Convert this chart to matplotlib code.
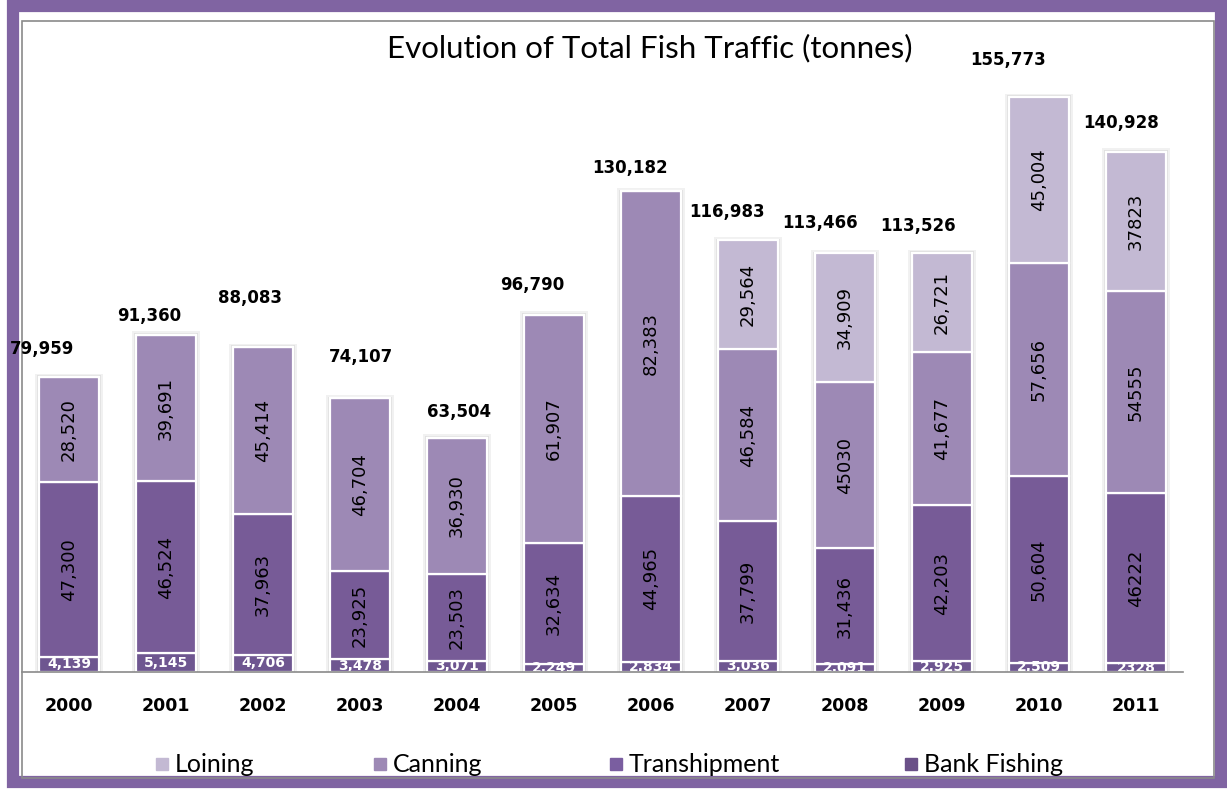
import numpy as np
import matplotlib.pyplot as plt
from matplotlib.patches import Rectangle

# Fish traffic per activity, tonnes
years = [2000, 2001, 2002, 2003, 2004, 2005, 2006, 2007, 2008, 2009, 2010, 2011]
bank_fishing = [4139, 5145, 4706, 3478, 3071, 2249, 2834, 3036, 2091, 2925, 2509, 2328]
transhipment = [47300, 46524, 37963, 23925, 23503, 32634, 44965, 37799, 31436, 42203, 50604, 46222]
canning = [28520, 39691, 45414, 46704, 36930, 61907, 82383, 46584, 45030, 41677, 57656, 54555]
loining = [0, 0, 0, 0, 0, 0, 0, 29564, 34909, 26721, 45004, 37823]

series_names = ["Bank Fishing", "Transhipment", "Canning", "Loining"]
bar_colors = ["#6E5690", "#775B97", "#9D89B5", "#C3B9D3"]
legend_colors = {"Loining": "#C3B9D3", "Canning": "#9D89B5",
                 "Transhipment": "#7A5EA0", "Bank Fishing": "#6A5088"}

# cells whose labels were typed without thousands separator
no_comma = {("Canning", 2008)} | {(s, 2011) for s in series_names}

# where each total label sits relative to its bar top (pixels)
total_offsets = [(-27, 28), (-17, 19), (-13, 49), (1, 41), (2, 26), (-22, 30),
                 (-21, 23), (-21, 28), (-25, 30), (-24, 27), (-31, 37), (-15, 29)]


def fmt(v, name, yr):
    return f"{v}" if (name, yr) in no_comma else f"{v:,}"


W, H = 1227, 793
fig = plt.figure(figsize=(W / 100, H / 100), dpi=100)

# purple outer frame and thin grey inner frame
fig.patches.append(Rectangle((13 / W, 11 / H), (1221 - 13) / W, (787 - 11) / H,
                             transform=fig.transFigure, fill=False,
                             edgecolor="#8064A2", linewidth=8.8, zorder=-2))
fig.patches.append(Rectangle((21.5 / W, (H - 778) / H), (1214 - 21.5) / W, (778 - 21) / H,
                             transform=fig.transFigure, fill=False,
                             edgecolor="#8a8a8a", linewidth=1.2, zorder=-1))

x0, x1, ybase, ytop = 22, 1183, 672, 22
ax = fig.add_axes([x0 / W, (H - ybase) / H, (x1 - x0) / W, (ybase - ytop) / H])
ax.set_facecolor("none")

px_per_unit = 575 / 155773
ax.set_ylim(0, (ybase - ytop) / px_per_unit)
ax.set_xlim((x0 - 69) / 97, (x1 - 69) / 97)

x = np.arange(len(years))
width = 0.62
data = [bank_fishing, transhipment, canning, loining]
totals = np.sum(data, axis=0)

# soft shadow behind the stacks
ax.bar(x, totals + 900, width=width + 0.085, color="#f1f1f1", zorder=1)
ax.bar(x, totals + 450, width=width + 0.045, color="#e0e0e0", zorder=1)

bottom = np.zeros(len(years))
for name, vals, col in zip(series_names, data, bar_colors):
    vals = np.array(vals)
    ax.bar(x, vals, width=width, bottom=bottom, color=col,
           edgecolor="white", linewidth=1.6, zorder=2)
    for i, v in enumerate(vals):
        if v == 0:
            continue
        yc = bottom[i] + v / 2
        if name == "Bank Fishing":
            ax.text(x[i], yc, fmt(v, name, years[i]), ha="center", va="center",
                    color="white", fontsize=10, fontweight="bold", zorder=3,
                    clip_on=True)
        else:
            ax.text(x[i], yc, fmt(v, name, years[i]), ha="center", va="center",
                    rotation=90, color="black", fontsize=13, zorder=3)
    bottom += vals

for i, t in enumerate(totals):
    dx, dy = total_offsets[i]
    ax.annotate(f"{t:,}", (x[i], t), xytext=(dx, dy), textcoords="offset pixels",
                ha="center", va="center", fontsize=12, fontweight="bold",
                annotation_clip=False, zorder=4)

ax.set_xticks(x)
ax.set_xticklabels([str(y) for y in years], fontsize=12.5, fontweight="bold")
ax.tick_params(axis="x", length=0, pad=18)
ax.set_yticks([])
for s in ["left", "right", "top"]:
    ax.spines[s].set_visible(False)
ax.spines["bottom"].set_color("#8a8a8a")
ax.spines["bottom"].set_linewidth(1.2)
ax.spines["bottom"].set_zorder(5)

fig.text(650 / W, 1 - 48 / H, "Evolution of Total Fish Traffic (tonnes)",
         ha="center", va="center", fontsize=22.5, family="Lato")

# legend along the bottom
legend_x = [156, 374, 610, 905]
for name, lx in zip(["Loining", "Canning", "Transhipment", "Bank Fishing"], legend_x):
    fig.patches.append(Rectangle((lx / W, 1 - 770 / H), 12 / W, 12 / H,
                                 transform=fig.transFigure,
                                 color=legend_colors[name]))
    fig.text((lx + 19) / W, 1 - 764 / H, name, ha="left", va="center",
             fontsize=18, family="Lato")

fig.savefig("out.png", dpi=100)
